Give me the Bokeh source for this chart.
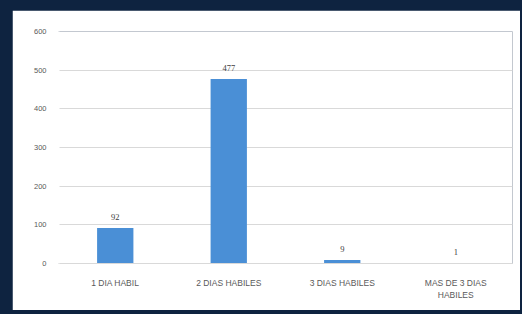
from bokeh.plotting import figure
from bokeh.models import ColumnDataSource, FactorRange, Range1d, LabelSet
from bokeh.layouts import column
from bokeh.embed import file_html
from bokeh.resources import INLINE

categories = ["1 DIA HABIL", "2 DIAS HABILES", "3 DIAS HABILES", "MAS DE 3 DIAS\nHABILES"]
values = [92, 477, 9, 1]
y_ticks = [0, 100, 200, 300, 400, 500, 600]

src = ColumnDataSource(dict(cat=categories, val=values, lab=[str(v) for v in values]))

p = figure(x_range=FactorRange(*categories), y_range=Range1d(0, 600),
           width=508, height=300, output_backend="svg", toolbar_location=None,
           min_border_left=46, min_border_right=8, min_border_top=21, min_border_bottom=47)
p.background_fill_color = "white"
p.border_fill_color = "white"
p.outline_line_color = None

p.vbar(x="cat", top="val", width=0.32, source=src, fill_color="#4a8fd6", line_color=None)

labels = LabelSet(x="cat", y="val", text="lab", source=src, text_align="center",
                  text_baseline="bottom", y_offset=8, text_font_size="8.5px",
                  text_color="#404040", text_font="Liberation Sans")
p.add_layout(labels)

p.yaxis.ticker = y_ticks
p.yaxis.axis_line_color = "white"
p.yaxis.axis_line_width = 2
p.yaxis.major_tick_line_color = None
p.yaxis.minor_tick_line_color = None
p.yaxis.major_label_text_font_size = "7.5px"
p.yaxis.major_label_text_color = "#595959"
p.yaxis.major_label_text_font = "Liberation Sans"
p.yaxis.major_label_standoff = 6

p.xaxis.axis_line_color = "#d9d9d9"
p.xaxis.major_tick_line_color = None
p.xaxis.minor_tick_line_color = None
p.xaxis.separator_line_color = None
p.xaxis.major_label_text_font_size = "8.5px"
p.xaxis.major_label_text_color = "#595959"
p.xaxis.major_label_text_font = "Liberation Sans"
p.xaxis.major_label_standoff = 8

p.xgrid.grid_line_color = None
p.ygrid.grid_line_color = "#d9d9d9"
p.ygrid.grid_line_width = 1

layout = column(p, styles={"background-color": "#0e2340", "padding": "10px 2px 4px 12px"})

open("out.html", "w").write(file_html(layout, INLINE))
